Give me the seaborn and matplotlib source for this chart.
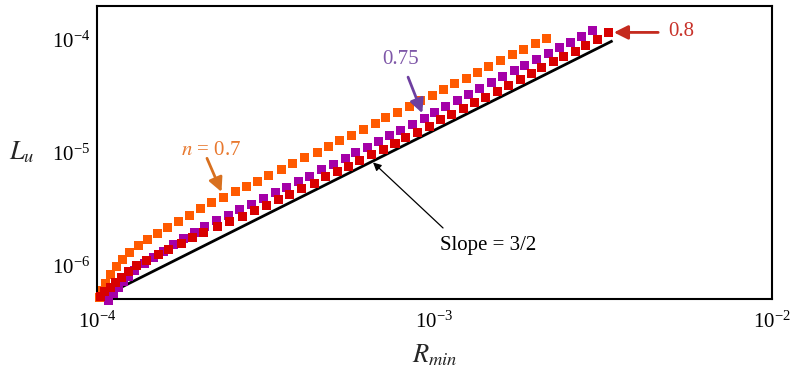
import matplotlib
matplotlib.use("Agg")
import matplotlib.pyplot as plt
import pandas as pd
import seaborn as sns

# L_u versus R_min for three power-law indices n
r_n070 = [1.014e-4, 1.035e-4, 1.063e-4, 1.100e-4, 1.142e-4, 1.191e-4, 1.252e-4, 1.326e-4,
          1.411e-4, 1.511e-4, 1.623e-4, 1.746e-4, 1.877e-4, 2.026e-4, 2.191e-4, 2.374e-4,
          2.567e-4, 2.770e-4, 2.989e-4, 3.233e-4, 3.510e-4, 3.801e-4, 4.133e-4, 4.491e-4,
          4.845e-4, 5.248e-4, 5.684e-4, 6.152e-4, 6.665e-4, 7.181e-4, 7.780e-4, 8.420e-4,
          9.120e-4, 9.850e-4, 1.063e-3, 1.150e-3, 1.245e-3, 1.343e-3, 1.450e-3, 1.571e-3,
          1.697e-3, 1.833e-3, 1.986e-3, 2.140e-3]
lu_n070 = [5.26e-7, 5.95e-7, 6.86e-7, 8.24e-7, 9.70e-7, 1.13e-6, 1.30e-6, 1.49e-6,
           1.71e-6, 1.94e-6, 2.18e-6, 2.47e-6, 2.80e-6, 3.18e-6, 3.61e-6, 4.04e-6,
           4.50e-6, 4.97e-6, 5.59e-6, 6.32e-6, 7.10e-6, 8.02e-6, 9.00e-6, 1.00e-5,
           1.13e-5, 1.27e-5, 1.43e-5, 1.60e-5, 1.81e-5, 2.03e-5, 2.28e-5, 2.58e-5,
           2.87e-5, 3.21e-5, 3.62e-5, 4.10e-5, 4.54e-5, 5.13e-5, 5.74e-5, 6.49e-5,
           7.34e-5, 8.19e-5, 9.26e-5, 1.02e-4]

r_n075 = [1.085e-4, 1.118e-4, 1.157e-4, 1.196e-4, 1.240e-4, 1.296e-4, 1.381e-4, 1.469e-4,
          1.572e-4, 1.683e-4, 1.802e-4, 1.942e-4, 2.089e-4, 2.263e-4, 2.449e-4, 2.653e-4,
          2.873e-4, 3.110e-4, 3.369e-4, 3.650e-4, 3.949e-4, 4.277e-4, 4.627e-4, 5.013e-4,
          5.431e-4, 5.853e-4, 6.341e-4, 6.816e-4, 7.381e-4, 7.956e-4, 8.620e-4, 9.328e-4,
          1.003e-3, 1.079e-3, 1.168e-3, 1.265e-3, 1.364e-3, 1.477e-3, 1.593e-3, 1.724e-3,
          1.854e-3, 2.008e-3, 2.174e-3, 2.343e-3, 2.532e-3, 2.730e-3, 2.943e-3]
lu_n075 = [4.90e-7, 5.65e-7, 6.41e-7, 7.19e-7, 8.07e-7, 9.12e-7, 1.05e-6, 1.18e-6,
           1.32e-6, 1.52e-6, 1.74e-6, 1.95e-6, 2.20e-6, 2.49e-6, 2.79e-6, 3.12e-6,
           3.50e-6, 3.93e-6, 4.41e-6, 4.92e-6, 5.51e-6, 6.19e-6, 7.03e-6, 7.91e-6,
           8.89e-6, 9.96e-6, 1.11e-5, 1.26e-5, 1.41e-5, 1.58e-5, 1.79e-5, 2.01e-5,
           2.27e-5, 2.58e-5, 2.91e-5, 3.29e-5, 3.70e-5, 4.15e-5, 4.69e-5, 5.29e-5,
           5.95e-5, 6.68e-5, 7.55e-5, 8.50e-5, 9.45e-5, 1.07e-4, 1.21e-4]

r_n080 = [1.021e-4, 1.056e-4, 1.093e-4, 1.131e-4, 1.183e-4, 1.238e-4, 1.311e-4, 1.404e-4,
          1.519e-4, 1.634e-4, 1.774e-4, 1.921e-4, 2.075e-4, 2.279e-4, 2.478e-4, 2.703e-4,
          2.925e-4, 3.184e-4, 3.445e-4, 3.731e-4, 4.042e-4, 4.405e-4, 4.754e-4, 5.166e-4,
          5.554e-4, 6.015e-4, 6.516e-4, 7.052e-4, 7.638e-4, 8.233e-4, 8.917e-4, 9.652e-4,
          1.042e-3, 1.124e-3, 1.217e-3, 1.318e-3, 1.418e-3, 1.535e-3, 1.655e-3, 1.792e-3,
          1.941e-3, 2.082e-3, 2.249e-3, 2.419e-3, 2.608e-3, 2.811e-3, 3.037e-3, 3.273e-3]
lu_n080 = [5.30e-7, 5.86e-7, 6.41e-7, 7.04e-7, 7.86e-7, 8.81e-7, 9.96e-7, 1.10e-6,
           1.24e-6, 1.39e-6, 1.57e-6, 1.78e-6, 1.95e-6, 2.20e-6, 2.44e-6, 2.74e-6,
           3.10e-6, 3.43e-6, 3.85e-6, 4.29e-6, 4.82e-6, 5.34e-6, 6.13e-6, 6.76e-6,
           7.60e-6, 8.58e-6, 9.64e-6, 1.07e-5, 1.21e-5, 1.35e-5, 1.52e-5, 1.72e-5,
           1.96e-5, 2.18e-5, 2.46e-5, 2.76e-5, 3.08e-5, 3.50e-5, 3.90e-5, 4.45e-5,
           5.02e-5, 5.69e-5, 6.36e-5, 7.07e-5, 7.91e-5, 8.94e-5, 1.01e-4, 1.16e-4]

# reference power law L ~ R^(3/2)
slope = 3 / 2
slope_r = [1.0e-4, 3.37e-3]
slope_l0 = 5.0e-7

n_labels = ["0.7", "0.75", "0.8"]
colors = {"0.7": "#FF5A00", "0.75": "#A400A8", "0.8": "#D80000"}

frames = []
for n, rs, ls in zip(n_labels, [r_n070, r_n075, r_n080], [lu_n070, lu_n075, lu_n080]):
    frames.append(pd.DataFrame({"R": rs, "L": ls, "n": n}))
df = pd.concat(frames, ignore_index=True)

sns.set_theme(style="white")
plt.rcParams["font.family"] = ["Liberation Serif", "DejaVu Serif"]
plt.rcParams["mathtext.fontset"] = "stix"

fig = plt.figure(figsize=(7.91, 3.78), dpi=100)
ax = fig.add_axes([0.1226, 0.2077, 0.8534, 0.7772])
ax.set_xscale("log")
ax.set_yscale("log")

slope_l = [slope_l0 * (r / slope_r[0]) ** slope for r in slope_r]
ax.plot(slope_r, slope_l, color="black", lw=2.0, zorder=2, solid_capstyle="butt", clip_on=False)

sns.scatterplot(data=df, x="R", y="L", hue="n", palette=colors, hue_order=n_labels,
                marker="s", s=42, linewidth=0, legend=False, ax=ax, zorder=3, clip_on=False)

ax.set_xlim(1e-4, 1e-2)
ax.set_ylim(5e-7, 2e-4)

for side in ["left", "bottom", "top", "right"]:
    ax.spines[side].set_color("black")
    ax.spines[side].set_linewidth(1.5)

ax.tick_params(which="both", direction="in", top=False, right=False, colors="black",
               labelsize=15, width=1.1)
ax.tick_params(which="major", length=7)
ax.tick_params(which="minor", length=3.5)
ax.tick_params(axis="x", which="both", pad=9)
ax.tick_params(axis="y", which="both", pad=5)

ax.set_xlabel(r"$R_{min}$", fontsize=19)
ax.set_ylabel(r"$L_u$", fontsize=19, rotation=0, va="center", ha="center")
ax.xaxis.set_label_coords(0.5, -0.145)
ax.yaxis.set_label_coords(-0.112, 0.5)

def arrow(tail, head, color, lw=2.0, scale=14, shrink=4):
    ax.annotate("", xy=head, xytext=tail,
                arrowprops=dict(arrowstyle="-|>,head_length=0.6,head_width=0.3",
                                color=color, lw=lw, mutation_scale=scale,
                                shrinkA=0, shrinkB=shrink))

# n = 0.7
ax.text(2.18e-4, 1.05e-5, r"$n$ = 0.7", color="#E8782E", fontsize=15, ha="center", va="center")
arrow((2.118e-4, 8.9e-6), (r_n070[15], lu_n070[15]), "#D8701F")

# n = 0.75
ax.text(7.96e-4, 6.7e-5, "0.75", color="#7E57A8", fontsize=15, ha="center", va="center")
arrow((8.35e-4, 4.66e-5), (r_n075[31], lu_n075[31]), "#6E3FA0")

# n = 0.8
ax.text(5.37e-3, 1.19e-4, "0.8", color="#C8322A", fontsize=15, ha="center", va="center")
arrow((4.6e-3, lu_n080[-1]), (r_n080[-1], lu_n080[-1]), "#C42A1E")

# slope label
r_mark = 6.53e-4
ax.text(1.44e-3, 1.49e-6, "Slope = 3/2", color="black", fontsize=15, ha="center", va="center")
arrow((1.06e-3, 2.15e-6), (r_mark, slope_l0 * (r_mark / slope_r[0]) ** slope), "black",
      lw=0.9, scale=8, shrink=1)

fig.savefig("out.png", dpi=100, facecolor="white")
